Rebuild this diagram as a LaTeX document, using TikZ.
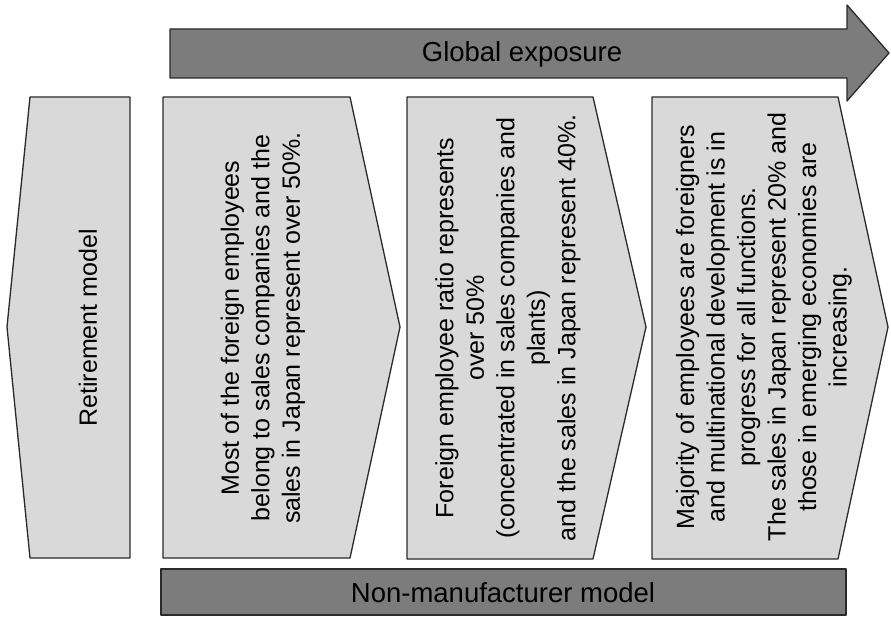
\documentclass[tikz,border=0pt]{standalone}
\usepackage{fontspec}
\setmainfont{Liberation Sans}
\definecolor{lightbox}{HTML}{D9D9D9}
\definecolor{darkbox}{HTML}{7C7C7C}
\definecolor{edge}{HTML}{2A2A2A}
\begin{document}
\begin{tikzpicture}[x=1pt,y=-1pt,
  lightshape/.style={fill=lightbox,draw=edge,line width=1.3pt,line join=round},
  darkshape/.style={fill=darkbox,draw=edge,line width=1.3pt,line join=round},
  boxtext/.style={rotate=90,align=center,inner sep=0pt,font=\fontsize{25}{30.5}\selectfont},
  bartext/.style={inner sep=0pt,font=\fontsize{27.5}{32}\selectfont}]
\useasboundingbox (0,0) rectangle (891,617);
% global exposure arrow
\path[darkshape] (170,29) -- (847,29) -- (847,5) -- (889,53) -- (847,101) -- (847,78) -- (170,78) -- cycle;
\node[bartext] (glob) at (522,54) {Global exposure};
% bottom bar
\path[darkshape] (161,569) rectangle (846,615);
\node[bartext] (nonman) at (503,593) {Non-manufacturer model};
% box 1
\path[lightshape] (30,97) -- (130,97) -- (130,558) -- (30,558) -- (7,327) -- cycle;
\node[boxtext] (retire) at (88,328) {Retirement model};
% box 2
\path[lightshape] (163,97) -- (350,97) -- (400,327) -- (350,558) -- (163,558) -- cycle;
\node[boxtext] (b2) at (263,328) {Most of the foreign employees\\belong to sales companies and the\\sales in Japan represent over 50\%.};
% box 3
\path[lightshape] (407,97) -- (593,97) -- (646,327) -- (593,559) -- (407,559) -- cycle;
\node[boxtext] (b3) at (508,328) {Foreign employee ratio represents\\over 50\%\\(concentrated in sales companies and\\plants)\\and the sales in Japan represent 40\%.};
% box 4
\path[lightshape] (652,97) -- (838,97) -- (888,327) -- (838,559) -- (652,559) -- cycle;
\node[boxtext] (b4) at (764,327) {Majority of employees are foreigners\\and multinational development is in\\progress for all functions.\\The sales in Japan represent 20\% and\\those in emerging economies are\\increasing.};
\end{tikzpicture}
\end{document}
